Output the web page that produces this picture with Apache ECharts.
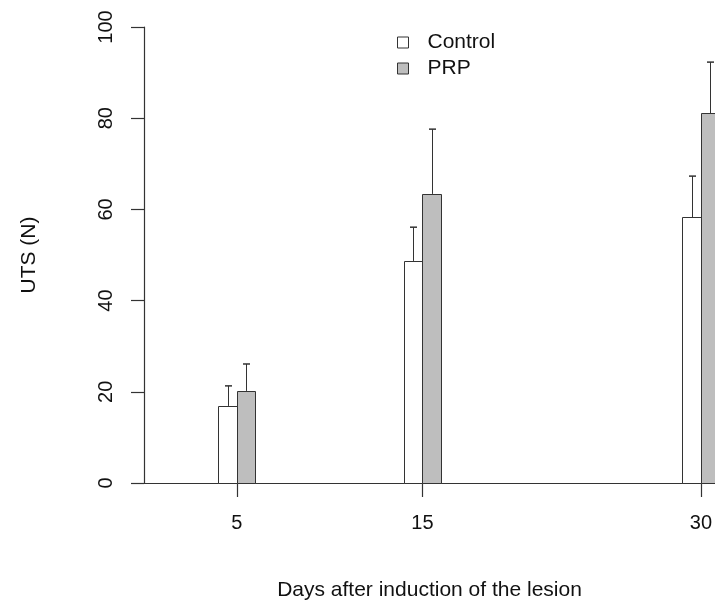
<!DOCTYPE html>
<html>
<head>
<meta charset="utf-8">
<script src="https://cdn.jsdelivr.net/npm/echarts@6/dist/echarts.min.js"></script>
<style>
  html, body { margin: 0; padding: 0; background: #fff; }
  #chart { width: 715px; height: 610px; }
</style>
</head>
<body>
<div id="chart"></div>
<script>
// data
const days = [5, 15, 30];
const controlMean = [16.9, 48.7, 58.3];
const controlErr = [4.4, 7.4, 9.0];
const prpMean = [20.2, 63.4, 81.1];
const prpErr = [5.9, 14.2, 11.2];
const yTicks = [0, 20, 40, 60, 80, 100];

const FONT = "Liberation Sans, Arial, sans-serif";
const LINE = "#333";

const chart = echarts.init(document.getElementById("chart"));

// bar drawn from day+offset to day+offset+1, in axis units
const barRender = (offset, fill) => (params, api) => {
  const x = api.value(0);
  const y = api.value(1);
  const p0 = api.coord([x + offset, y]);
  const p1 = api.coord([x + offset + 1, 0]);
  return {
    type: "rect",
    shape: {
      x: Math.round(p0[0]) + 0.5,
      y: Math.round(p0[1]) + 0.5,
      width: Math.round(p1[0]) - Math.round(p0[0]),
      height: Math.round(p1[1]) - Math.round(p0[1]),
    },
    style: { fill: fill, stroke: LINE, lineWidth: 1 },
  };
};

// upper error bar only, like the original
const errRender = (offset) => (params, api) => {
  const xc = api.value(0) + offset + 0.5;
  const top = api.coord([xc, api.value(1) + api.value(2)]);
  const base = api.coord([xc, api.value(1)]);
  const cx = Math.round(top[0]) + 0.5;
  return {
    type: "group",
    children: [
      { type: "line", shape: { x1: cx, y1: base[1], x2: cx, y2: top[1] }, style: { stroke: LINE, lineWidth: 1 } },
      { type: "line", shape: { x1: cx - 3.5, y1: top[1], x2: cx + 3.5, y2: top[1] }, style: { stroke: LINE, lineWidth: 1.5 } },
    ],
  };
};

const ctrlData = days.map((d, i) => [d, controlMean[i], controlErr[i]]);
const prpData = days.map((d, i) => [d, prpMean[i], prpErr[i]]);

chart.setOption({
  animation: false,
  textStyle: { fontFamily: FONT },
  grid: { left: 144, right: 0, top: 27, bottom: 127 },
  legend: {
    orient: "vertical",
    left: 392,
    top: 27,
    itemWidth: 11,
    itemHeight: 11,
    itemGap: 5,
    icon: "rect",
    textStyle: { fontSize: 21, color: "#111", padding: [0, 0, 0, 14] },
    data: [
      { name: "Control", itemStyle: { color: "#fff", borderColor: LINE, borderWidth: 1 } },
      { name: "PRP", itemStyle: { color: "#bebebe", borderColor: LINE, borderWidth: 1 } },
    ],
  },
  xAxis: {
    type: "value",
    min: 0,
    max: 30.76,
    name: "Days after induction of the lesion",
    nameLocation: "middle",
    nameGap: 97,
    nameTextStyle: { fontSize: 21, color: "#111" },
    splitLine: { show: false },
    axisLine: { show: true, lineStyle: { color: LINE, width: 1.2 } },
    axisTick: { show: true, length: 14, customValues: days, lineStyle: { color: LINE, width: 1.2 } },
    axisLabel: { customValues: days, fontSize: 20, color: "#111", margin: 30 },
  },
  yAxis: {
    type: "value",
    min: yTicks[0],
    max: yTicks[yTicks.length - 1],
    interval: 20,
    name: "UTS (N)",
    nameLocation: "middle",
    nameGap: 104,
    nameRotate: 90,
    nameTextStyle: { fontSize: 21, color: "#111" },
    splitLine: { show: false },
    axisLine: { show: true, lineStyle: { color: LINE, width: 1.2 } },
    axisTick: { show: true, length: 13, lineStyle: { color: LINE, width: 1.2 } },
    axisLabel: { rotate: 90, fontSize: 20, color: "#111", margin: 28 },
  },
  series: [
    { name: "Control", type: "custom", data: ctrlData, renderItem: barRender(-1, "#fff"), clip: false, z: 2 },
    { name: "PRP", type: "custom", data: prpData, renderItem: barRender(0, "#bebebe"), clip: false, z: 2 },
    { name: "Control", type: "custom", data: ctrlData, renderItem: errRender(-1), clip: false, z: 3 },
    { name: "PRP", type: "custom", data: prpData, renderItem: errRender(0), clip: false, z: 3 },
  ],
});
</script>
</body>
</html>
